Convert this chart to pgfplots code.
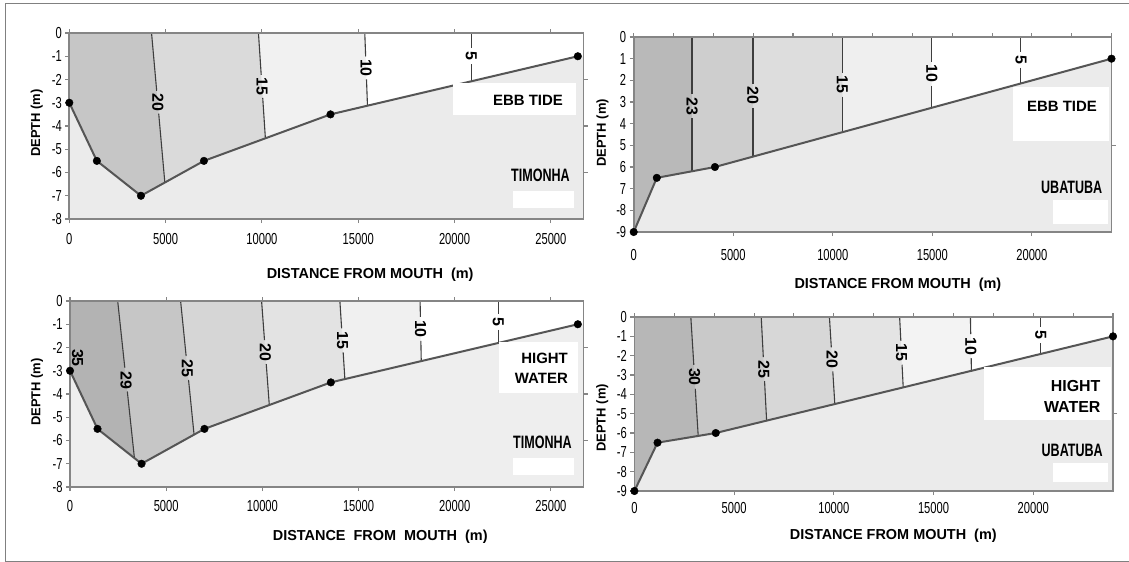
\documentclass[border=0pt]{standalone}
\usepackage{fontspec}
\setmainfont{Liberation Sans}
\newfontfamily\narrow[FakeStretch=0.7]{Liberation Sans}
\newfontfamily\narrowb[FakeStretch=0.7]{Liberation Sans Bold}
\usepackage{pgfplots}
\pgfplotsset{compat=1.18}

\definecolor{axgray}{HTML}{858585}
\definecolor{isogray}{HTML}{3E3E3E}
\definecolor{profgray}{HTML}{555555}
\definecolor{gnd}{HTML}{EBEBEB}
\definecolor{gndb}{HTML}{EEEEEE}
% panel 1 bands
\definecolor{ta1}{HTML}{C6C6C6}
\definecolor{ta2}{HTML}{DADADA}
\definecolor{ta3}{HTML}{F1F1F1}
% panel 2 bands
\definecolor{ua1}{HTML}{B9B9B9}
\definecolor{ua2}{HTML}{CECECE}
\definecolor{ua3}{HTML}{DDDDDD}
\definecolor{ua4}{HTML}{EFEFEF}
% panel 3 bands
\definecolor{tb1}{HTML}{B3B3B3}
\definecolor{tb2}{HTML}{C6C6C6}
\definecolor{tb3}{HTML}{D6D6D6}
\definecolor{tb4}{HTML}{E3E3E3}
\definecolor{tb5}{HTML}{F0F0F0}
% panel 4 bands
\definecolor{ub1}{HTML}{B7B7B7}
\definecolor{ub2}{HTML}{C9C9C9}
\definecolor{ub3}{HTML}{D7D7D7}
\definecolor{ub4}{HTML}{E4E4E4}
\definecolor{ub5}{HTML}{F3F3F3}

\pgfplotsset{
  panel/.style={
    scale only axis, axis on top, anchor=south west,
    scaled x ticks=false, scaled y ticks=false,
    tick align=outside, major tick length=4bp,
    axis line style={draw=axgray, line width=1.6bp},
    tick style={draw=axgray, line width=1.1bp},
    xtick pos=left, ytick pos=left,
    ticklabel style={font=\narrow\fontsize{16}{16}\selectfont},
    xlabel style={font=\bfseries\fontsize{14.5}{15}\selectfont, anchor=center},
    ylabel style={font=\bfseries\fontsize{13}{14}\selectfont, anchor=center},
  },
  topright/.style={
    scale only axis, anchor=south west, clip=false,
    scaled x ticks=false, scaled y ticks=false,
    tick align=outside, major tick length=4bp,
    axis line style={draw=none},
    tick style={draw=axgray, line width=1.1bp},
    xtick pos=right, ytick pos=right,
    xticklabels={}, yticklabels={},
  },
  band/.style={fill=#1, draw=none},
  iso/.style={draw=isogray, line width=1.1bp},
  prof/.style={draw=profgray, line width=2bp},
  dots/.style={only marks, mark=*, mark size=3.8bp, mark options={fill=black, draw=black}},
}
\tikzset{
  lab/.style={font=\bfseries\fontsize{16}{16}\selectfont, rotate=-90, inner sep=0pt},
  tag/.style={font=\bfseries\fontsize{15}{20}\selectfont, anchor=east, align=right, inner sep=0pt},
  site/.style={font=\narrowb\fontsize{18}{18}\selectfont, anchor=east, inner sep=0pt},
}

\begin{document}
\begin{tikzpicture}
\useasboundingbox (0,0) rectangle (1129bp,-562bp);
\draw[gray, line width=1bp] (1129bp,-3bp) -- (5bp,-3bp) -- (5bp,-561bp) -- (1129bp,-561bp);

% ---------- Timonha, ebb tide ----------
\begin{axis}[panel, at={(69.3bp,-219bp)}, width=514.3bp, height=186bp,
  xmin=0, xmax=26700, ymin=-8, ymax=0,
  xtick={0,5000,10000,15000,20000,25000},
  xticklabels={0,5000,10000,15000,20000,25000},
  ytick={-8,-7,-6,-5,-4,-3,-2,-1,0},
  yticklabels={-8,-7,-6,-5,-4,-3,-2,-1,0},
  xticklabel style={yshift=-7bp},
  xlabel={DISTANCE FROM MOUTH\ \ (m)}, ylabel={DEPTH\ (m)},
  xlabel style={at={(axis description cs:0.585,-0.301)}},
  ylabel style={at={(axis description cs:-0.063,0.516)}},
]
\addplot[band=ta1] coordinates {(0,0) (26700,0) (26700,-8) (0,-8)} -- cycle;
\addplot[band=ta2] coordinates {(4270,0) (26700,0) (26700,-8) (4960,-8) (4960,-6.43)} -- cycle;
\addplot[band=ta3] coordinates {(9820,0) (26700,0) (26700,-8) (10180,-8) (10180,-4.53)} -- cycle;
\addplot[band=white] coordinates {(15340,0) (26700,0) (26700,-8) (15480,-8) (15480,-3.13)} -- cycle;
\addplot[band=gnd] coordinates {(0,-3) (1430,-5.5) (3720,-7) (6990,-5.5) (13560,-3.5) (26400,-1) (26700,-1) (26700,-8) (0,-8)} -- cycle;
\addplot[iso, dash pattern=on 58bp off 23bp on 999bp] coordinates {(4270,0) (4960,-6.43)};
\addplot[iso, dash pattern=on 42bp off 23bp on 999bp] coordinates {(9820,0) (10180,-4.53)};
\addplot[iso, dash pattern=on 23.5bp off 23bp on 999bp] coordinates {(15340,0) (15480,-3.13)};
\addplot[iso, dash pattern=on 15bp off 16bp on 999bp] coordinates {(20870,0) (20870,-2.08)};
\node[lab] at (axis cs:4592,-3.0) {20};
\node[lab] at (axis cs:10003,-2.3) {15};
\node[lab] at (axis cs:15407,-1.5) {10};
\node[lab] at (axis cs:20870,-1.0) {5};
\addplot[prof] coordinates {(0,-3) (1430,-5.5) (3720,-7) (6990,-5.5) (13560,-3.5) (26400,-1)};
\end{axis}
\begin{axis}[topright, at={(69.3bp,-219bp)}, width=514.3bp, height=186bp,
  xmin=0, xmax=26700, ymin=-8, ymax=0,
  xtick={0,5000,10000,15000,20000,25000}, ytick={-6,-4,-2}]
\addplot[dots] coordinates {(0,-3) (1430,-5.5) (3720,-7) (6990,-5.5) (13560,-3.5) (26400,-1)};
\end{axis}
\fill[white] (453bp,-83bp) rectangle (576bp,-115bp);
\node[tag] at (563bp,-100bp) {EBB TIDE};
\node[site] at (570bp,-175bp) {TIMONHA};
\fill[white] (513bp,-191bp) rectangle (574bp,-208bp);

% ---------- Ubatuba, ebb tide ----------
\begin{axis}[panel, at={(633.7bp,-232bp)}, width=477.8bp, height=195bp,
  xmin=0, xmax=24000, ymin=-9, ymax=0,
  xtick={0,5000,10000,15000,20000},
  xticklabels={0,5000,10000,15000,20000},
  ytick={-9,-8,-7,-6,-5,-4,-3,-2,-1,0},
  yticklabels={-9,-8,7,6,5,4,3,2,1,0},
  xticklabel style={yshift=-10bp},
  xlabel={DISTANCE FROM MOUTH\ \ (m)}, ylabel={DEPTH\ (m)},
  xlabel style={at={(axis description cs:0.553,-0.272)}},
  ylabel style={at={(axis description cs:-0.065,0.508)}},
]
\addplot[band=ua1] coordinates {(0,0) (24000,0) (24000,-9) (0,-9)} -- cycle;
\addplot[band=ua2] coordinates {(2930,0) (24000,0) (24000,-9) (2930,-9) (2930,-6.2)} -- cycle;
\addplot[band=ua3] coordinates {(5990,0) (24000,0) (24000,-9) (5990,-9) (5990,-5.52)} -- cycle;
\addplot[band=ua4] coordinates {(10480,0) (24000,0) (24000,-9) (10480,-9) (10480,-4.39)} -- cycle;
\addplot[band=white] coordinates {(14970,0) (24000,0) (24000,-9) (14970,-9) (14970,-3.25)} -- cycle;
\addplot[band=gnd] coordinates {(0,-9) (1160,-6.5) (4080,-6) (24000,-1) (24000,-9)} -- cycle;
\addplot[iso, dash pattern=on 57bp off 24bp on 999bp] coordinates {(2930,0) (2930,-6.2)};
\addplot[iso, dash pattern=on 46.5bp off 24bp on 999bp] coordinates {(5990,0) (5990,-5.52)};
\addplot[iso, dash pattern=on 35.7bp off 24bp on 999bp] coordinates {(10480,0) (10480,-4.39)};
\addplot[iso, dash pattern=on 24.8bp off 24bp on 999bp] coordinates {(14970,0) (14970,-3.25)};
\addplot[iso, dash pattern=on 14.8bp off 16bp on 999bp] coordinates {(19450,0) (19450,-2.13)};
\node[lab] at (axis cs:2930,-3.2) {23};
\node[lab] at (axis cs:5990,-2.7) {20};
\node[lab] at (axis cs:10480,-2.2) {15};
\node[lab] at (axis cs:14970,-1.7) {10};
\node[lab] at (axis cs:19450,-1.05) {5};
\addplot[prof] coordinates {(0,-9) (1160,-6.5) (4080,-6) (24000,-1)};
\end{axis}
\begin{axis}[topright, at={(633.7bp,-232bp)}, width=477.8bp, height=195bp,
  xmin=0, xmax=24000, ymin=-9, ymax=0,
  xtick={0,2000,...,24000}, ytick={-5}]
\addplot[dots] coordinates {(0,-9) (1160,-6.5) (4080,-6) (24000,-1)};
\end{axis}
\fill[white] (1013bp,-87bp) rectangle (1108.6bp,-141bp);
\node[tag] at (1097bp,-106bp) {EBB TIDE};
\node[site] at (1102.5bp,-187bp) {UBATUBA};
\fill[white] (1053bp,-200bp) rectangle (1108bp,-224bp);

% ---------- Timonha, high water ----------
\begin{axis}[panel, at={(70bp,-487bp)}, width=513.6bp, height=186bp,
  xmin=0, xmax=26700, ymin=-8, ymax=0,
  xtick={0,5000,10000,15000,20000,25000},
  xticklabels={0,5000,10000,15000,20000,25000},
  ytick={-8,-7,-6,-5,-4,-3,-2,-1,0},
  yticklabels={-8,-7,-6,-5,-4,-3,-2,-1,0},
  xticklabel style={yshift=-6bp},
  xlabel={DISTANCE\ \ FROM\ \ MOUTH\ \ (m)}, ylabel={DEPTH\ (m)},
  xlabel style={at={(axis description cs:0.604,-0.269)}},
  ylabel style={at={(axis description cs:-0.064,0.51)}},
]
\addplot[band=tb1] coordinates {(0,0) (26700,0) (26700,-8) (0,-8)} -- cycle;
\addplot[band=tb2] coordinates {(2480,0) (26700,0) (26700,-8) (3350,-8) (3350,-6.76)} -- cycle;
\addplot[band=tb3] coordinates {(5750,0) (26700,0) (26700,-8) (6450,-8) (6450,-5.75)} -- cycle;
\addplot[band=tb4] coordinates {(9960,0) (26700,0) (26700,-8) (10360,-8) (10360,-4.47)} -- cycle;
\addplot[band=tb5] coordinates {(14030,0) (26700,0) (26700,-8) (14290,-8) (14290,-3.36)} -- cycle;
\addplot[band=white] coordinates {(18200,0) (26700,0) (26700,-8) (18260,-8) (18260,-2.58)} -- cycle;
\addplot[band=gndb] coordinates {(0,-3) (1430,-5.5) (3720,-7) (6990,-5.5) (13560,-3.5) (26400,-1) (26700,-1) (26700,-8) (0,-8)} -- cycle;
\addplot[iso, dash pattern=on 67bp off 24bp on 999bp] coordinates {(2480,0) (3350,-6.76)};
\addplot[iso, dash pattern=on 55.4bp off 24bp on 999bp] coordinates {(5750,0) (6450,-5.75)};
\addplot[iso, dash pattern=on 39.2bp off 24bp on 999bp] coordinates {(9960,0) (10360,-4.47)};
\addplot[iso, dash pattern=on 27.5bp off 24bp on 999bp] coordinates {(14030,0) (14290,-3.36)};
\addplot[iso, dash pattern=on 15.9bp off 24bp on 999bp] coordinates {(18200,0) (18260,-2.58)};
\addplot[iso, dash pattern=on 12.9bp off 16bp on 999bp] coordinates {(22260,0) (22260,-1.81)};
\node[lab] at (axis cs:390,-2.45) {35};
\node[lab] at (axis cs:2918,-3.4) {29};
\node[lab] at (axis cs:6103,-2.9) {25};
\node[lab] at (axis cs:10157,-2.2) {20};
\node[lab] at (axis cs:14161,-1.7) {15};
\node[lab] at (axis cs:18230,-1.2) {10};
\node[lab] at (axis cs:22260,-0.9) {5};
\addplot[prof] coordinates {(0,-3) (1430,-5.5) (3720,-7) (6990,-5.5) (13560,-3.5) (26400,-1)};
\end{axis}
\begin{axis}[topright, at={(70bp,-487bp)}, width=513.6bp, height=186bp,
  xmin=0, xmax=26700, ymin=-8, ymax=0,
  xtick={0,5000,10000,15000,20000,25000}, ytick={-6,-4,-2}]
\addplot[dots] coordinates {(0,-3) (1430,-5.5) (3720,-7) (6990,-5.5) (13560,-3.5) (26400,-1)};
\end{axis}
\fill[white] (499bp,-342bp) rectangle (578bp,-393bp);
\node[tag] at (568bp,-368bp) {HIGHT\\WATER};
\node[site] at (572bp,-442bp) {TIMONHA};
\fill[white] (513bp,-458bp) rectangle (574bp,-475bp);

% ---------- Ubatuba, high water ----------
\begin{axis}[panel, at={(634.4bp,-491bp)}, width=478.6bp, height=174bp,
  xmin=0, xmax=24000, ymin=-9, ymax=0,
  xtick={0,5000,10000,15000,20000},
  xticklabels={0,5000,10000,15000,20000},
  ytick={-9,-8,-7,-6,-5,-4,-3,-2,-1,0},
  yticklabels={-9,-8,-7,-6,-5,-4,-3,-2,-1,0},
  xticklabel style={yshift=-4bp},
  xlabel={DISTANCE FROM MOUTH\ \ (m)}, ylabel={DEPTH\ (m)},
  xlabel style={at={(axis description cs:0.541,-0.257)}},
  ylabel style={at={(axis description cs:-0.067,0.42)}},
]
\addplot[band=ub1] coordinates {(0,0) (24000,0) (24000,-9) (0,-9)} -- cycle;
\addplot[band=ub2] coordinates {(2830,0) (24000,0) (24000,-9) (3200,-9) (3200,-6.15)} -- cycle;
\addplot[band=ub3] coordinates {(6360,0) (24000,0) (24000,-9) (6630,-9) (6630,-5.36)} -- cycle;
\addplot[band=ub4] coordinates {(9780,0) (24000,0) (24000,-9) (10050,-9) (10050,-4.5)} -- cycle;
\addplot[band=ub5] coordinates {(13300,0) (24000,0) (24000,-9) (13480,-9) (13480,-3.64)} -- cycle;
\addplot[band=white] coordinates {(16850,0) (24000,0) (24000,-9) (16900,-9) (16900,-2.78)} -- cycle;
\addplot[band=gnd] coordinates {(0,-9) (1160,-6.5) (4080,-6) (24000,-1) (24000,-9)} -- cycle;
\addplot[iso, dash pattern=on 47.9bp off 24bp on 999bp] coordinates {(2830,0) (3200,-6.15)};
\addplot[iso, dash pattern=on 40.2bp off 24bp on 999bp] coordinates {(6360,0) (6630,-5.36)};
\addplot[iso, dash pattern=on 30.5bp off 24bp on 999bp] coordinates {(9780,0) (10050,-4.5)};
\addplot[iso, dash pattern=on 23.8bp off 24bp on 999bp] coordinates {(13300,0) (13480,-3.64)};
\addplot[iso, dash pattern=on 17bp off 24bp on 999bp] coordinates {(16850,0) (16900,-2.78)};
\addplot[iso, dash pattern=on 10.4bp off 16bp on 999bp] coordinates {(20380,0) (20380,-1.91)};
\node[lab] at (axis cs:3016,-3.1) {30};
\node[lab] at (axis cs:6496,-2.7) {25};
\node[lab] at (axis cs:9912,-2.2) {20};
\node[lab] at (axis cs:13391,-1.85) {15};
\node[lab] at (axis cs:16870,-1.5) {10};
\node[lab] at (axis cs:20380,-0.95) {5};
\addplot[prof] coordinates {(0,-9) (1160,-6.5) (4080,-6) (24000,-1)};
\end{axis}
\begin{axis}[topright, at={(634.4bp,-491bp)}, width=478.6bp, height=174bp,
  xmin=0, xmax=24000, ymin=-9, ymax=0,
  xtick={0,2000,...,24000}, ytick={-5}]
\addplot[dots] coordinates {(0,-9) (1160,-6.5) (4080,-6) (24000,-1)};
\end{axis}
\fill[white] (984bp,-367bp) rectangle (1111bp,-420bp);
\node[tag, font=\bfseries\fontsize{16}{21}\selectfont] at (1100.6bp,-396.5bp) {HIGHT\\WATER};
\node[site] at (1103bp,-450bp) {UBATUBA};
\fill[white] (1053bp,-463bp) rectangle (1108bp,-482bp);
\end{tikzpicture}
\end{document}
